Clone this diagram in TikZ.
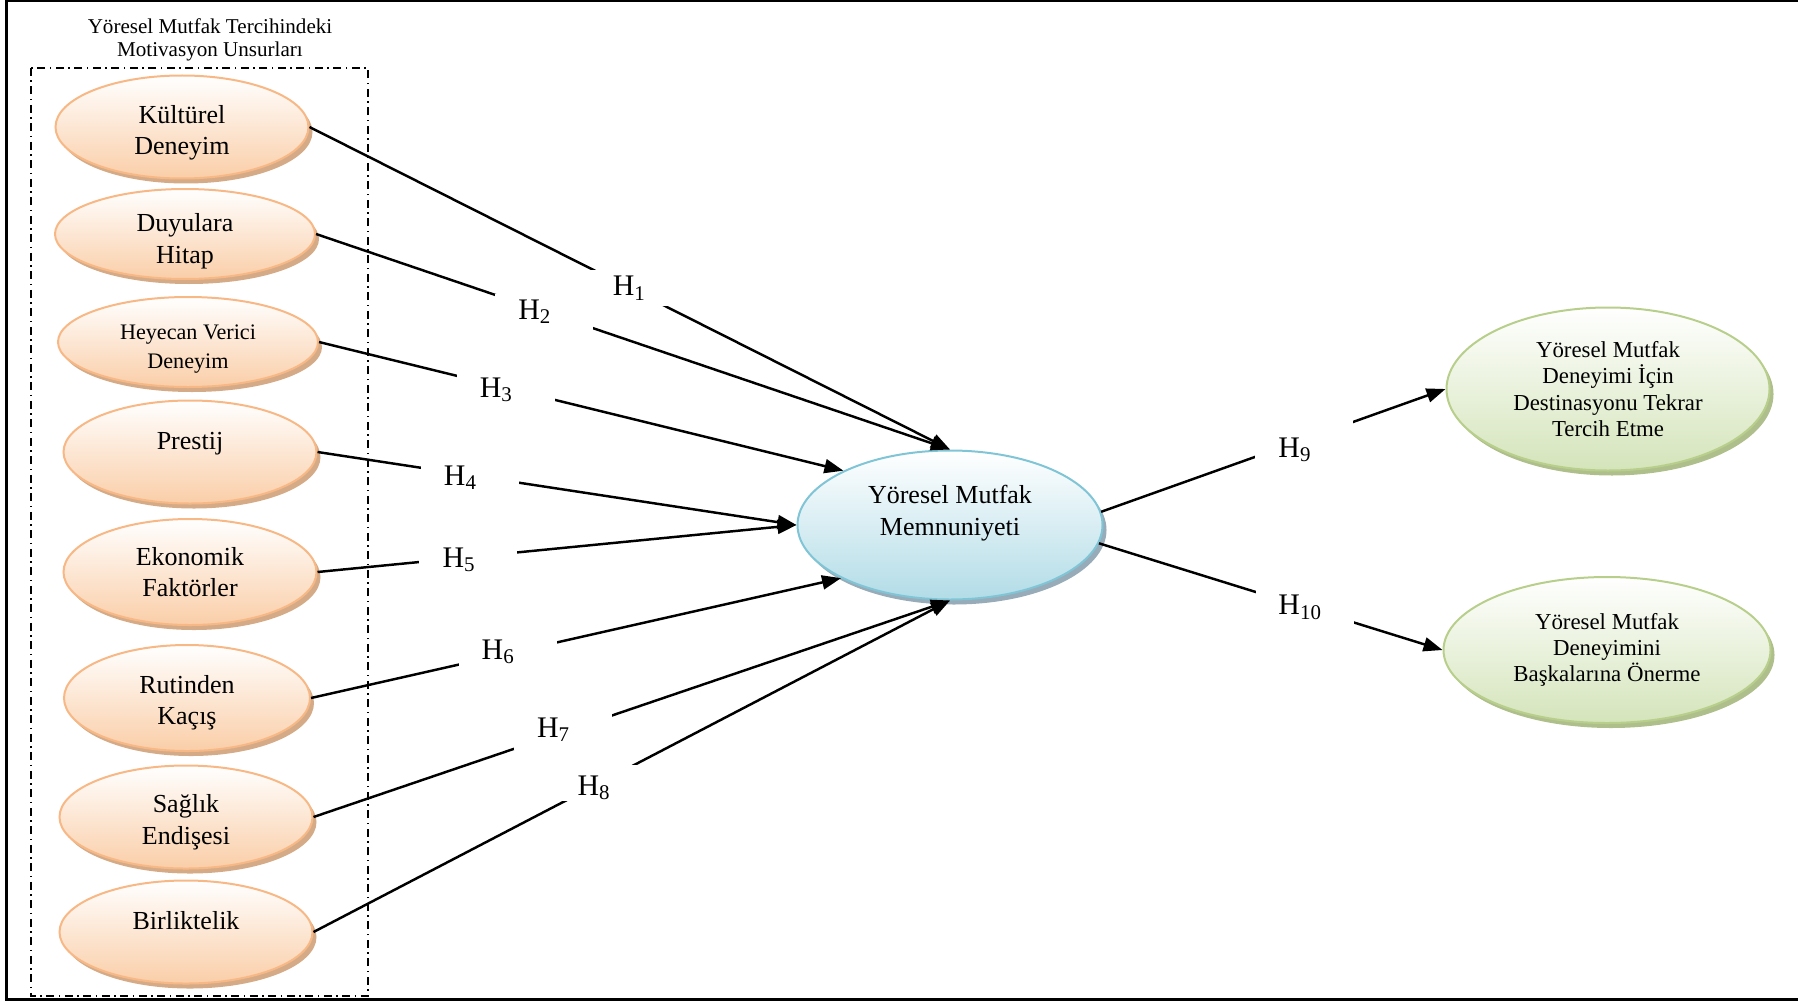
\documentclass[tikz,border=0pt]{standalone}
\usepackage{fontspec}
\setmainfont{Liberation Serif}
\usepackage{tikz}
\usetikzlibrary{shapes.geometric, arrows.meta, shadows}

\definecolor{peachline}{RGB}{247,184,134}
\definecolor{peachfill}{RGB}{250,206,168}
\definecolor{peachshadow}{RGB}{208,162,122}
\definecolor{skyline}{RGB}{128,197,214}
\definecolor{skyfill}{RGB}{178,220,231}
\definecolor{skyshadow}{RGB}{140,162,176}
\definecolor{sageline}{RGB}{184,207,140}
\definecolor{sagefill}{RGB}{212,228,186}
\definecolor{sageshadow}{RGB}{166,184,128}

\tikzset{
    factor/.style={ellipse, draw=peachline, line width=0.2mm, top color=white, bottom color=peachfill,
        drop shadow={shadow xshift=0.4mm, shadow yshift=-0.5mm, fill=peachshadow, opacity=0.9},
        minimum width=25.3mm, minimum height=10.3mm, inner sep=0pt, align=center,
        font=\fontsize{7.4}{9}\selectfont},
    satisfaction/.style={ellipse, draw=skyline, line width=0.2mm, top color=white, bottom color=skyfill,
        drop shadow={shadow xshift=0.4mm, shadow yshift=-0.5mm, fill=skyshadow, opacity=0.9},
        minimum width=30.5mm, minimum height=14.9mm, inner sep=0pt, align=center, text depth=3mm,
        font=\fontsize{7.4}{9.1}\selectfont},
    outcome/.style={ellipse, draw=sageline, line width=0.2mm, top color=white, bottom color=sagefill,
        drop shadow={shadow xshift=0.4mm, shadow yshift=-0.5mm, fill=sageshadow, opacity=0.9},
        minimum width=32.3mm, minimum height=16.3mm, inner sep=0pt, align=center,
        font=\fontsize{6.5}{7.5}\selectfont},
    hyp/.style={fill=white, minimum width=9.8mm, minimum height=3.6mm, inner sep=0pt,
        font=\fontsize{8.5}{10}\selectfont, execute at end node=\hspace*{#1}},
    hyp/.default=1.8mm,
    groupbox/.style={line width=0.15mm, dash pattern=on 0.8mm off 0.45mm on 0.15mm off 0.45mm}
}

\begin{document}
\begin{tikzpicture}[x=0.1mm, y=-0.1mm, >={Triangle[length=1.9mm, width=1.4mm]}, line width=0.7pt]
    \useasboundingbox (0, 0) rectangle (1798, 1001);
    \draw[line width=0.3mm] (1810, 1) -- (6, 1) -- (6, 999) -- (1810, 999);

    \node[align=center, font=\fontsize{6}{6.6}\selectfont] (title) at (210, 40) {Yöresel Mutfak Tercihindeki\\Motivasyon Unsurları};
    \draw[groupbox] (31, 68) rectangle (368, 996);

    \node[factor, text height=6.1mm] (kultur) at (182, 127) {Kültürel\\Deneyim};
    \node[factor, minimum width=26mm, minimum height=9mm, text height=5.8mm, text depth=-0.8mm] (duyu) at (185, 234) {Duyulara\\Hitap};
    \node[factor, minimum width=26mm, minimum height=9mm, text height=5.2mm, text depth=-0.45mm, font=\fontsize{6.3}{8}\selectfont] (heyecan) at (188, 342) {Heyecan Verici\\Deneyim};
    \node[factor, text depth=2.2mm] (prestij) at (190, 452) {Prestij};
    \node[factor, minimum height=10.6mm] (ekonomi) at (190, 572) {Ekonomik\\Faktörler};
    \node[factor, minimum width=24.6mm, minimum height=10.6mm, text height=5.9mm] (rutin) at (187, 698) {Rutinden\\Kaçış};
    \node[factor, text height=6mm] (saglik) at (186, 817) {Sağlık\\Endişesi};
    \node[factor, text depth=2.4mm] (birlik) at (186, 932) {Birliktelik};

    \node[satisfaction] (memnun) at (950, 525) {Yöresel Mutfak\\Memnuniyeti};

    \node[outcome] (tekrar) at (1608, 389) {Yöresel Mutfak\\Deneyimi İçin\\Destinasyonu Tekrar\\Tercih Etme};
    \node[outcome, minimum width=32.7mm, minimum height=14.6mm] (oneri) at (1607, 650) {Yöresel Mutfak\\Deneyimini\\Başkalarına Önerme};

    \draw[->] (kultur.east) -- node[hyp=0mm, pos=0.5] {H\textsubscript{1}} (memnun.north);
    \draw[->] (duyu.east) -- node[hyp, pos=0.36] {H\textsubscript{2}} (memnun.north);
    \draw[->] (heyecan.east) -- node[hyp, pos=0.356, text height=2.4mm] {H\textsubscript{3}} (memnun.153);
    \draw[->] (prestij.east) -- node[hyp, pos=0.318, text height=2.4mm] {H\textsubscript{4}} (memnun.west);
    \draw[->] (ekonomi.east) -- node[hyp, pos=0.315, text height=2.4mm] {H\textsubscript{5}} (memnun.west);
    \draw[->] (rutin.east) -- node[hyp, pos=0.371, text depth=0.8mm] {H\textsubscript{6}} (memnun.206);
    \draw[->] (saglik.east) -- node[hyp, pos=0.392, text depth=0.8mm] {H\textsubscript{7}} (memnun.south);
    \draw[->] (birlik.east) -- node[hyp=1.1mm, pos=0.45, text height=3mm] {H\textsubscript{8}} (memnun.south);
    \draw[->] (memnun.5) -- node[hyp, pos=0.59, text height=4mm] {H\textsubscript{9}} (tekrar.west);
    \draw[->] (memnun.-7) -- node[hyp=0.9mm, pos=0.6] {H\textsubscript{10}} (oneri.west);
\end{tikzpicture}
\end{document}
